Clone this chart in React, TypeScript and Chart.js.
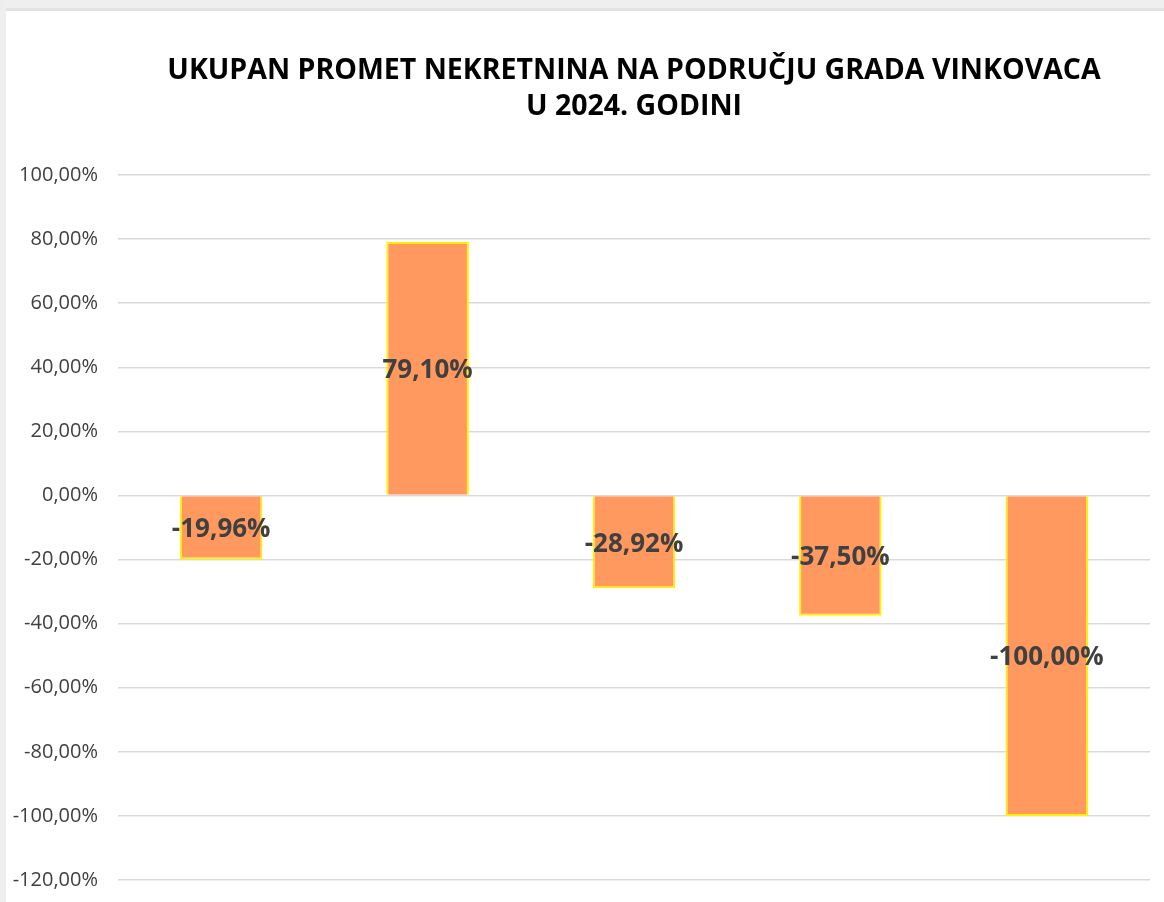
import React, { useEffect, useRef } from "react";
import { Chart, registerables } from "chart.js";

Chart.register(...registerables);

const titleLines = ["UKUPAN PROMET NEKRETNINA NA PODRUČJU GRADA VINKOVACA", "U 2024. GODINI"];
const categories = ["1", "2", "3", "4", "5"];
const values = [-19.96, 79.1, -28.92, -37.5, -100.0];
const yMin = -120;
const yMax = 100;
const yStep = 20;

const fmt = (v: number) => v.toFixed(2).replace(".", ",") + "%";

const framePlugin = {
  id: "frame",
  beforeDraw(chart: any) {
    const { ctx, width, height } = chart;
    ctx.save();
    ctx.fillStyle = "#ffffff";
    ctx.fillRect(0, 0, width, height);
    ctx.fillStyle = "#efefef";
    ctx.fillRect(0, 0, width, 10);
    ctx.fillStyle = "#e3e3e3";
    ctx.fillRect(0, 8, width, 3);
    ctx.fillStyle = "#eeeeee";
    ctx.fillRect(0, 0, 6, height);
    ctx.restore();
  },
  afterDraw(chart: any) {
    const { ctx, chartArea } = chart;
    const cx = (chartArea.left + chartArea.right) / 2;
    ctx.save();
    ctx.fillStyle = "#000000";
    ctx.font = "bold 28.5px 'Open Sans'";
    ctx.textAlign = "center";
    ctx.textBaseline = "middle";
    ctx.fillText(titleLines[0], cx, 71);
    ctx.fillText(titleLines[1], cx, 107);
    // data labels
    const meta = chart.getDatasetMeta(0);
    ctx.font = "bold 26px 'Open Sans'";
    ctx.fillStyle = "#404040";
    meta.data.forEach((bar: any, i: number) => {
      const y = (bar.y + bar.base) / 2;
      ctx.fillText(fmt(values[i]), bar.x, y + 2);
    });
    ctx.restore();
  },
};

export default function App() {
  const ref = useRef<HTMLCanvasElement>(null);
  useEffect(() => {
    document.body.style.margin = "0";
    const chart = new Chart(ref.current!, {
      type: "bar",
      data: {
        labels: categories,
        datasets: [
          {
            data: values,
            backgroundColor: "#FF995F",
            borderColor: "#FFF200",
            borderWidth: 2,
            categoryPercentage: 0.8,
            barPercentage: 0.5,
          },
        ],
      },
      options: {
        animation: false,
        responsive: false,
        devicePixelRatio: 1,
        layout: { padding: { top: 175, bottom: 22, right: 14, left: 0 } },
        plugins: { legend: { display: false }, title: { display: false }, tooltip: { enabled: false } },
        scales: {
          x: { display: false },
          y: {
            min: yMin,
            max: yMax,
            ticks: {
              stepSize: yStep,
              padding: 20,
              color: "#404040",
              font: { family: "'Open Sans'", size: 20 },
              callback: (v: any) => fmt(Number(v)),
            },
            border: { display: false },
            grid: { color: "#d9d9d9", lineWidth: 1.5, drawTicks: false },
            afterFit: (s: any) => {
              s.width = 118;
              s.paddingTop = 0;
              s.paddingBottom = 0;
            },
          },
        },
      },
      plugins: [framePlugin],
    });
    return () => chart.destroy();
  }, []);
  return (
    <div style={{ width: 1164, height: 902, position: "relative" }}>
      <canvas ref={ref} width={1164} height={902} style={{ display: "block" }} />
    </div>
  );
}
